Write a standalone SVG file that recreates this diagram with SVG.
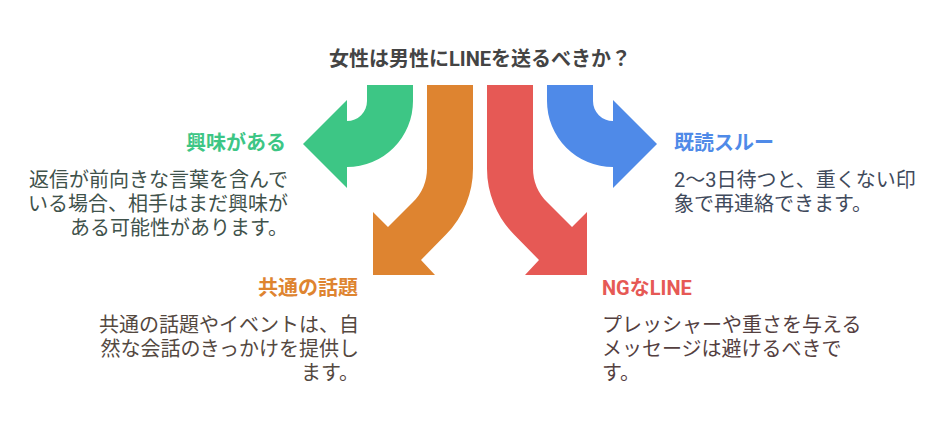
<svg xmlns="http://www.w3.org/2000/svg" width="948" height="432" viewBox="0 0 948 432">
<style>
text{font-family:Roboto,"Noto Sans CJK JP","Noto Sans",sans-serif;}
.h{font-size:20px;font-weight:700;}
.t{font-size:20px;}
.e{text-anchor:end;}
</style>
<rect width="948" height="432" fill="#fff"/>
<g id="connectors">
<path fill="#3dc685" d="M367 85V101A20 20 0 0 1 347 121V100L303 144L347 188V167A66 66 0 0 0 413 101V85Z"/>
<path fill="#4f8ae8" d="M593 85V101A20 20 0 0 0 613 121V100L657 144L613 188V167A66 66 0 0 1 547 101V85Z"/>
<path fill="#de8430" d="M427 85V168A48 48 0 0 1 413 202L388 227L373 212V275H435L421 260L446 234.500A94 94 0 0 0 473 168V85Z"/>
<path fill="#e65955" d="M533 85V168A48 48 0 0 0 547 202L572 227L587 212V275H525L539 260L514 234.500A94 94 0 0 1 487 168V85Z"/>
</g>
<g id="title"><text class="h" x="329" y="66" fill="#444444">女性は男性にLINEを送るべきか？</text></g>
<g id="node-interest">
<text class="h e" x="286" y="150" fill="#3dc685">興味がある</text>
<text class="t e" x="288" y="187" fill="#3f524b">返信が前向きな言葉を含んで</text>
<text class="t e" x="288" y="211" fill="#3f524b">いる場合、相手はまだ興味が</text>
<text class="t e" x="288" y="235" fill="#3f524b">ある可能性があります。</text>
</g>
<g id="node-common">
<text class="h e" x="358" y="295" fill="#de8430">共通の話題</text>
<text class="t e" x="359" y="332" fill="#54483f">共通の話題やイベントは、自</text>
<text class="t e" x="359" y="356" fill="#54483f">然な会話のきっかけを提供し</text>
<text class="t e" x="359" y="380" fill="#54483f">ます。</text>
</g>
<g id="node-ng">
<text class="h" x="602" y="295" fill="#e65955">NGなLINE</text>
<text class="t" x="602" y="332" fill="#54403f">プレッシャーや重さを与える</text>
<text class="t" x="602" y="356" fill="#54403f">メッセージは避けるべきで</text>
<text class="t" x="602" y="380" fill="#54403f">す。</text>
</g>
<g id="node-kidoku">
<text class="h" x="674" y="150" fill="#4f8ae8">既読スルー</text>
<text class="t" x="674" y="187" fill="#3f4a5c">2～3日待つと、重くない印</text>
<text class="t" x="674" y="211" fill="#3f4a5c">象で再連絡できます。</text>
</g>
</svg>
